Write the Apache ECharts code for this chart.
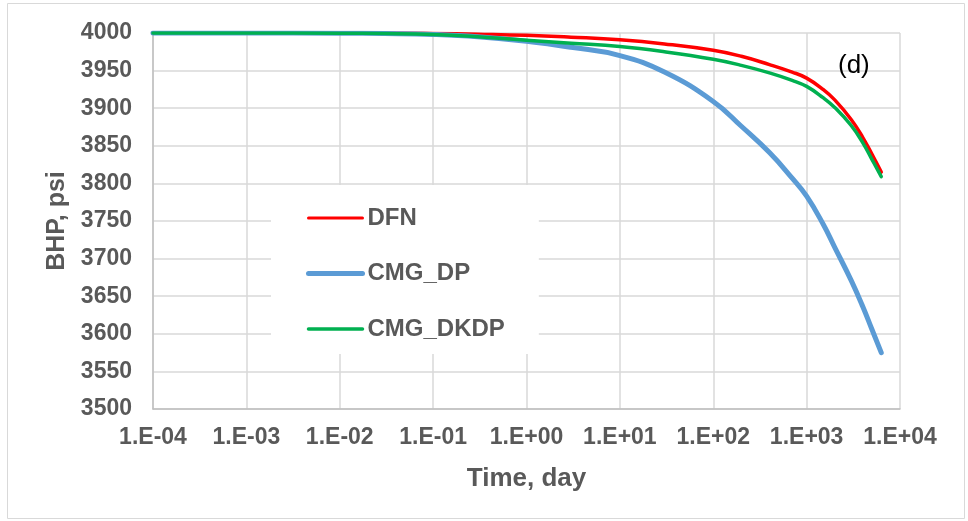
<!DOCTYPE html>
<html>
<head>
<meta charset="utf-8">
<script src="https://cdn.jsdelivr.net/npm/echarts@6/dist/echarts.min.js"></script>
<style>
  body { margin: 0; background: #fff; }
  #chart { width: 968px; height: 521px; }
</style>
</head>
<body>
<div id="chart"></div>
<script>
// time, day
var times = [1e-4, 1e-3, 1e-2, 3e-2, 1e-1, 3e-1, 1, 3, 10, 30, 100, 200, 400, 700, 1000, 1500, 2000, 3000, 4000, 5000, 6300]
// BHP, psi
var dfn = [4000, 4000, 4000, 4000, 3999.5, 3998.5, 3997, 3994.5, 3991, 3985.5, 3977, 3969, 3958, 3948, 3940, 3925, 3911, 3885, 3861, 3839, 3815]
var cmgDp = [4000, 4000, 3999.8, 3999.3, 3998, 3995, 3989, 3981, 3970, 3948, 3909, 3876, 3841, 3807, 3783, 3746, 3715, 3671, 3636, 3606, 3575]
var cmgDkdp = [4000, 4000, 3999.8, 3999.3, 3998, 3995, 3990.5, 3986.5, 3982, 3975, 3965, 3957, 3947, 3937, 3929, 3914, 3901, 3877, 3854, 3832, 3809]
var xTickLabels = ['1.E-04', '1.E-03', '1.E-02', '1.E-01', '1.E+00', '1.E+01', '1.E+02', '1.E+03', '1.E+04']

function pairs(vals) {
  return times.map(function (t, i) {
    return [t, vals[i]]
  })
}

var font = 'Liberation Sans, Arial, sans-serif'
var grey = '#595959'

var myChart = echarts.init(document.getElementById('chart'))

function lineSeries(name, vals, color, width) {
  return {
    name: name,
    type: 'line',
    data: pairs(vals),
    symbol: 'none',
    smooth: 0.45,
    lineStyle: { color: color, width: width, cap: 'round', join: 'round' },
    itemStyle: { color: color }
  }
}

var option = {
  animation: false,
  grid: {
    left: 153,
    top: 33,
    width: 747,
    height: 376
  },
  graphic: [
    {
      type: 'rect',
      shape: { x: 7.5, y: 3.5, width: 957, height: 515 },
      style: { fill: 'none', stroke: '#D9D9D9', lineWidth: 1 },
      silent: true,
      z: -1
    },
    {
      // panel tag
      type: 'text',
      x: 838,
      y: 53,
      style: { text: '(d)', font: '26px ' + font, fill: '#000' },
      z: 10
    }
  ],
  legend: {
    orient: 'vertical',
    left: 271,
    top: 185,
    padding: [21, 34, 13, 35],
    backgroundColor: '#fff',
    itemWidth: 54,
    itemHeight: 14,
    itemGap: 31.5,
    itemStyle: { opacity: 0 },
    textStyle: {
      fontFamily: font,
      fontWeight: 'bold',
      fontSize: 24,
      color: grey
    },
    data: [
      { name: 'DFN', lineStyle: { width: 3 } },
      { name: 'CMG_DP', lineStyle: { width: 5 } },
      { name: 'CMG_DKDP', lineStyle: { width: 3.5 } }
    ]
  },
  xAxis: {
    type: 'log',
    logBase: 10,
    min: 1e-4,
    max: 1e4,
    splitNumber: 8,
    name: 'Time, day',
    nameLocation: 'middle',
    nameGap: 57,
    nameTextStyle: {
      fontFamily: font,
      fontWeight: 'bold',
      fontSize: 26,
      color: grey
    },
    axisLine: { lineStyle: { color: '#BFBFBF', width: 1.5 } },
    axisTick: { show: false },
    axisLabel: {
      margin: 17,
      fontFamily: font,
      fontWeight: 'bold',
      fontSize: 23,
      color: grey,
      formatter: function (v) {
        var e = Math.round(Math.log10(v))
        return xTickLabels[e + 4]
      }
    },
    splitLine: { show: true, lineStyle: { color: '#D9D9D9', width: 1.5 } }
  },
  yAxis: {
    type: 'value',
    min: 3500,
    max: 4000,
    interval: 50,
    name: 'BHP, psi',
    nameLocation: 'middle',
    nameGap: 76,
    nameTextStyle: {
      fontFamily: font,
      fontWeight: 'bold',
      fontSize: 25,
      color: grey
    },
    axisLine: { show: true, lineStyle: { color: '#BFBFBF', width: 1.5 } },
    axisTick: { show: false },
    axisLabel: {
      margin: 21,
      fontFamily: font,
      fontWeight: 'bold',
      fontSize: 23,
      color: grey,
      formatter: function (v) {
        return String(v)
      }
    },
    splitLine: { show: true, lineStyle: { color: '#D9D9D9', width: 1.5 } }
  },
  series: [
    lineSeries('DFN', dfn, '#FF0000', 3.5),
    lineSeries('CMG_DP', cmgDp, '#5B9BD5', 5),
    lineSeries('CMG_DKDP', cmgDkdp, '#00B050', 3.5)
  ]
}

myChart.setOption(option)
</script>
</body>
</html>
